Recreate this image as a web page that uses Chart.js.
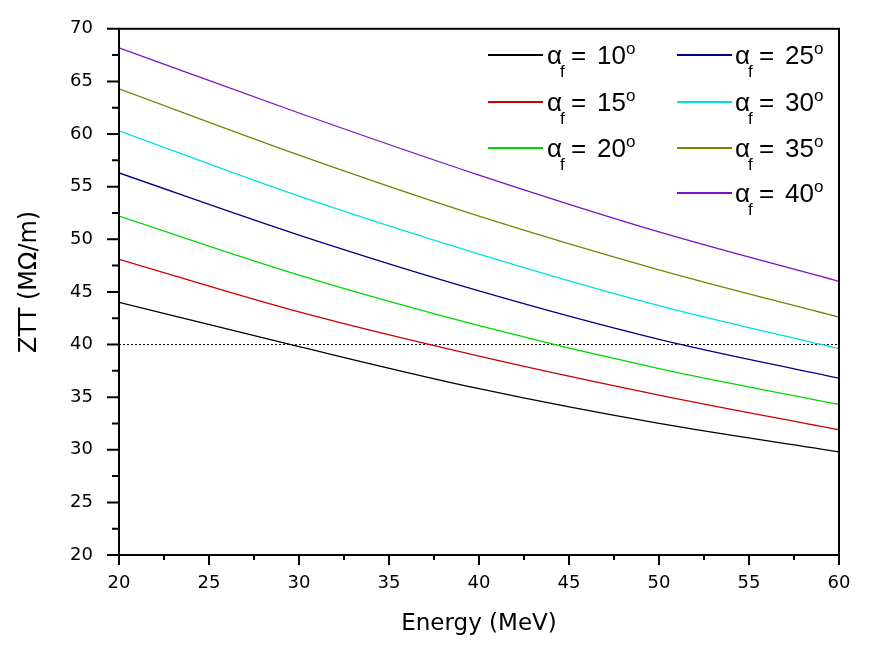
<!DOCTYPE html>
<html>
<head>
<meta charset="utf-8">
<script src="https://cdn.jsdelivr.net/npm/chart.js@4/dist/chart.umd.min.js"></script>
<style>
  html, body { margin: 0; padding: 0; background: #ffffff; }
  #wrap { width: 880px; height: 652px; position: relative; }
</style>
</head>
<body>
<div id="wrap"><canvas id="c" width="880" height="652"></canvas></div>
<script>
// ---- data ----
const energy = [20, 30, 40, 50, 60];
const angles = [10, 15, 20, 25, 30, 35, 40];
const ztt10 = [44.0, 39.8, 35.8, 32.5, 29.8];
const ztt15 = [48.1, 43.1, 38.9, 35.2, 31.9];
const ztt20 = [52.2, 46.6, 41.8, 37.7, 34.3];
const ztt25 = [56.3, 50.4, 45.1, 40.5, 36.8];
const ztt30 = [60.3, 54.1, 48.6, 43.7, 39.6];
const ztt35 = [64.3, 58.0, 52.2, 47.1, 42.6];
const ztt40 = [68.2, 62.0, 56.1, 50.7, 46.0];
const refLevel = 40;
const xTicks = [20, 25, 30, 35, 40, 45, 50, 55, 60];
const yTicks = [20, 25, 30, 35, 40, 45, 50, 55, 60, 65, 70];
const xTitle = 'Energy (MeV)';
const yTitle = 'ZTT (MΩ/m)';

// ---- styles ----
const FONT = '"DejaVu Sans", "Liberation Sans", Arial, sans-serif';
const LFONT = '"Liberation Sans", Arial, Helvetica, sans-serif';
const colors = ['#000000', '#cc0000', '#00d800', '#000088', '#00e0e0', '#808000', '#7a10c8'];
const seriesList = [ztt10, ztt15, ztt20, ztt25, ztt30, ztt35, ztt40];

const datasets = seriesList.map((s, i) => ({
  label: 'α_f = ' + angles[i] + '°',
  angle: angles[i],
  data: energy.map((e, k) => ({ x: e, y: s[k] })),
  borderColor: colors[i],
  borderWidth: 1.3,
  pointRadius: 0,
  fill: false,
  cubicInterpolationMode: 'monotone'
}));
datasets.push({
  label: 'ref',
  data: [{ x: energy[0], y: refLevel }, { x: energy[energy.length - 1], y: refLevel }],
  borderColor: '#000000',
  borderWidth: 1,
  borderDash: [2, 2],
  pointRadius: 0,
  fill: false
});

// legend layout (positions only)
const legendRows = [55, 102, 148, 193];
const legendSlots = [[0, 0], [0, 1], [0, 2], [1, 0], [1, 1], [1, 2], [1, 3]];
const legendLineX = [488, 677];
const legendTextX = [547, 735];

const framePlugin = {
  id: 'frame',
  afterDatasetsDraw(chart) {
    const { ctx, chartArea: a, scales } = chart;
    ctx.save();
    ctx.strokeStyle = '#000';
    ctx.lineWidth = 2;
    ctx.strokeRect(a.left, a.top, a.right - a.left, a.bottom - a.top);
    ctx.beginPath();
    for (let i = 0; i < yTicks.length; i++) {
      const y = scales.y.getPixelForValue(yTicks[i]);
      ctx.moveTo(a.left - 12, y); ctx.lineTo(a.left, y);
      if (i < yTicks.length - 1) {
        const ym = scales.y.getPixelForValue((yTicks[i] + yTicks[i + 1]) / 2);
        ctx.moveTo(a.left - 7, ym); ctx.lineTo(a.left, ym);
      }
    }
    for (let i = 0; i < xTicks.length; i++) {
      const x = scales.x.getPixelForValue(xTicks[i]);
      ctx.moveTo(x, a.bottom); ctx.lineTo(x, a.bottom + 10);
      if (i < xTicks.length - 1) {
        const xm = scales.x.getPixelForValue((xTicks[i] + xTicks[i + 1]) / 2);
        ctx.moveTo(xm, a.bottom); ctx.lineTo(xm, a.bottom + 5);
      }
    }
    ctx.stroke();
    ctx.restore();
  },
  afterDraw(chart) {
    const ctx = chart.ctx;
    const a = chart.chartArea;
    ctx.save();
    // y axis title (slightly above the plot centre, as in the reference)
    ctx.fillStyle = '#000';
    ctx.font = '24px ' + FONT;
    ctx.textAlign = 'center';
    ctx.textBaseline = 'middle';
    ctx.translate(30, (a.top + a.bottom) / 2 - 10);
    ctx.rotate(-Math.PI / 2);
    ctx.fillText(yTitle, 0, 0);
    ctx.restore();

    ctx.save();
    ctx.textAlign = 'left';
    ctx.textBaseline = 'alphabetic';
    chart.data.datasets.forEach((ds, i) => {
      if (ds.angle === undefined) return;
      const [col, row] = legendSlots[i];
      const ly = legendRows[row];
      ctx.strokeStyle = colors[i];
      ctx.lineWidth = 2;
      ctx.setLineDash([]);
      ctx.beginPath();
      ctx.moveTo(legendLineX[col], ly);
      ctx.lineTo(legendLineX[col] + 55, ly);
      ctx.stroke();
      ctx.fillStyle = '#000';
      const x0 = legendTextX[col];
      const base = ly + 9;
      ctx.font = '26px ' + LFONT;
      ctx.fillText('α', x0, base);
      ctx.font = '17px ' + LFONT;
      ctx.fillText('f', x0 + 13, base + 13);
      ctx.font = '26px ' + LFONT;
      ctx.fillText('=', x0 + 24, base);
      const num = String(ds.angle);
      ctx.fillText(num, x0 + 50, base);
      const w = ctx.measureText(num).width;
      ctx.font = '17px ' + LFONT;
      ctx.fillText('o', x0 + 50 + w, base - 10);
    });
    ctx.restore();
  }
};

new Chart(document.getElementById('c'), {
  type: 'line',
  data: { datasets },
  options: {
    responsive: false,
    animation: false,
    layout: { padding: { left: 0, top: 25, right: 41, bottom: 0 } },
    plugins: { legend: { display: false }, tooltip: { enabled: false } },
    scales: {
      x: {
        type: 'linear',
        min: 20, max: 60,
        grid: { display: false },
        border: { display: false },
        ticks: { stepSize: 5, color: '#000', font: { family: FONT, size: 18 }, padding: 10, maxRotation: 0 },
        title: { display: true, text: xTitle, color: '#000', font: { family: FONT, size: 23 }, padding: { top: 0, bottom: 14 } },
        afterFit(s) { s.height = 97; }
      },
      y: {
        type: 'linear',
        min: 20, max: 70,
        grid: { display: false },
        border: { display: false },
        ticks: { stepSize: 5, color: '#000', font: { family: FONT, size: 18 }, padding: 18 },
        title: { display: false },
        afterFit(s) { s.width = 119; }
      }
    }
  },
  plugins: [framePlugin]
});
</script>
</body>
</html>
